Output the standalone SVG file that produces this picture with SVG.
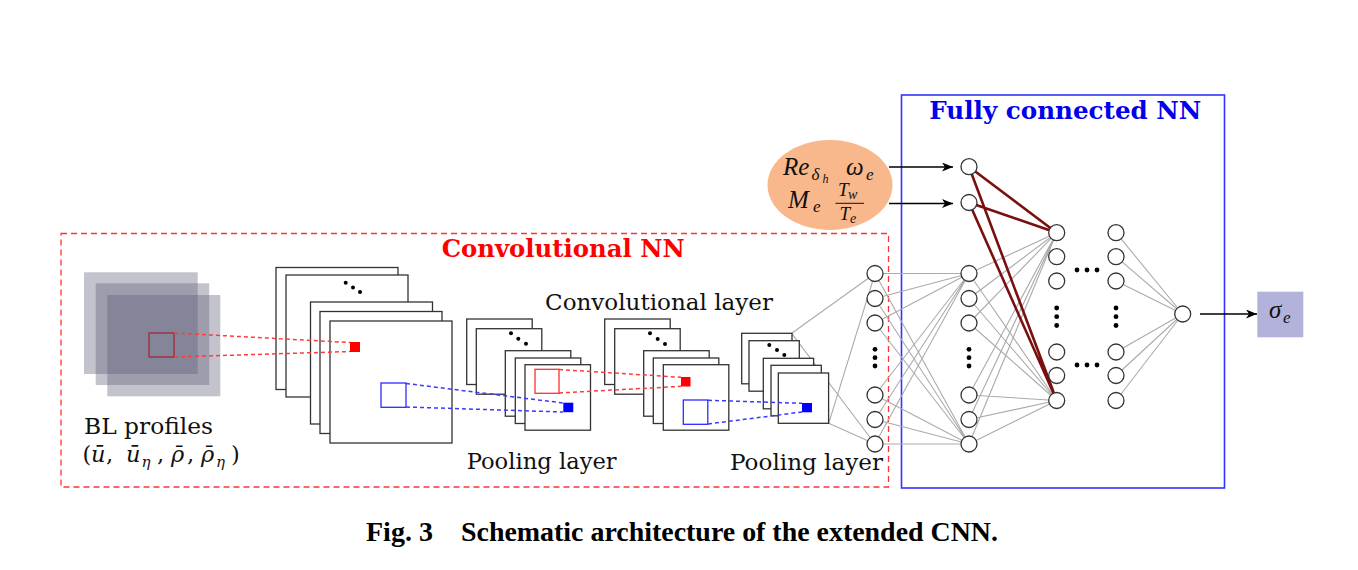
<svg xmlns="http://www.w3.org/2000/svg" width="1358" height="570" viewBox="0 0 1358 570">
<style>
.fr{fill:#fff;stroke:#333;stroke-width:1.3}
.gs{fill:#5c5c78;fill-opacity:0.37}
.nd{fill:#fff;stroke:#333;stroke-width:1.3}
.dt{fill:#000}
.gl{fill:none;stroke:#ababab;stroke-width:1.1}
.rl{fill:none;stroke:#7a0f0f;stroke-width:2.6}
.ar{fill:none;stroke:#000;stroke-width:1.6;marker-end:url(#ah)}
.rd{fill:none;stroke:#ff3b3b;stroke-width:1.5;stroke-dasharray:4 3}
.bd{fill:none;stroke:#3a3aff;stroke-width:1.5;stroke-dasharray:4 3}
.lbl{font-family:"DejaVu Serif","Liberation Serif",serif;font-size:22.5px;fill:#111}
.ttl{font-family:"DejaVu Serif","Liberation Serif",serif;font-size:24px;font-weight:bold}
.mi{font-family:"Liberation Serif","DejaVu Serif",serif;font-style:italic;fill:#111}
.mb{font-family:"DejaVu Serif",serif;font-style:italic;fill:#111}
.cap{font-family:"Liberation Serif","Times New Roman",serif;font-size:28px;font-weight:bold;fill:#000}
</style>
<defs>
<marker id="ah" markerUnits="userSpaceOnUse" markerWidth="12" markerHeight="9" refX="11" refY="4.5" orient="auto">
<path d="M0,0 L11,4.5 L0,9 L3,4.5 z" fill="#000"/>
</marker>
</defs>

<g id="cnn-frame">
<rect x="61" y="233.5" width="827.5" height="253.5" fill="none" stroke="#ff3333" stroke-width="1.3" stroke-dasharray="6 4"/>
<text class="ttl" x="441.7" y="257" fill="#ff0000" textLength="243" lengthAdjust="spacingAndGlyphs">Convolutional NN</text>
</g>

<g id="fc-frame">
<rect x="901.5" y="95" width="323" height="393" fill="none" stroke="#3333ff" stroke-width="1.6"/>
<text class="ttl" x="929.3" y="118.5" fill="#0000ee" textLength="272" lengthAdjust="spacingAndGlyphs">Fully connected NN</text>
</g>

<g id="connectors">
<path class="gl" d="M791.7 333.3L875 273.5M791.7 333.3L875 444M828.7 423.3L875 273.5M828.7 423.3L875 444"/>
<path class="gl" d="M875 273.5L969 273.5M875 298.5L969 273.5M875 323L969 273.5M875 395L969 273.5M875 419.5L969 273.5M875 444L969 273.5M875 273.5L969 444M875 298.5L969 444M875 323L969 444M875 395L969 444M875 419.5L969 444M875 444L969 444"/>
<path class="gl" d="M969 273.5L1056.7 232.7M969 298.5L1056.7 232.7M969 323L1056.7 232.7M969 395L1056.7 232.7M969 419.5L1056.7 232.7M969 444L1056.7 232.7M969 273.5L1056.7 400.5M969 298.5L1056.7 400.5M969 323L1056.7 400.5M969 395L1056.7 400.5M969 419.5L1056.7 400.5M969 444L1056.7 400.5"/>
<path class="gl" d="M1116 232.7L1182.7 314M1116 256.7L1182.7 314M1116 281L1182.7 314M1116 352L1182.7 314M1116 375.5L1182.7 314M1116 400.5L1182.7 314"/>
<path class="rl" d="M969 166.7L1056.7 232.7M969 166.7L1056.7 400.5M969 202.5L1056.7 232.7M969 202.5L1056.7 400.5"/>
<path class="ar" d="M889 167H953"/>
<path class="ar" d="M889 203.5H953"/>
<path class="ar" d="M1200 314H1257"/>
</g>

<g id="bl-profiles">
<rect class="gs" x="84" y="272.3" width="113.7" height="101.7"/>
<rect class="gs" x="95.7" y="283.3" width="113.5" height="101.7"/>
<rect class="gs" x="107.3" y="295" width="113" height="101.3"/>
<rect x="149" y="333" width="25" height="24" fill="none" stroke="#a3283a" stroke-width="1.3"/>
<text class="lbl" x="84" y="434" textLength="129" lengthAdjust="spacingAndGlyphs">BL profiles</text>
<text class="mb" font-size="22.5">
<tspan x="82.5" y="462" font-style="normal">(</tspan><tspan x="91" y="462">ū</tspan><tspan x="106" y="462" font-style="normal">,</tspan><tspan x="126" y="462">ū</tspan><tspan x="141.5" y="467" font-size="15">η</tspan><tspan x="157" y="462" font-style="normal">,</tspan><tspan x="171" y="462">ρ̄</tspan><tspan x="187" y="462" font-style="normal">,</tspan><tspan x="201" y="462">ρ̄</tspan><tspan x="216" y="467" font-size="15">η</tspan><tspan x="231" y="462" font-style="normal">)</tspan>
</text>
</g>

<g id="conv-layer-1">
<rect class="fr" x="276" y="267.5" width="122" height="122"/>
<rect class="fr" x="286" y="275" width="122" height="122"/>
<circle class="dt" cx="345.7" cy="282.7" r="2"/><circle class="dt" cx="353" cy="287.5" r="2"/><circle class="dt" cx="360" cy="292" r="2"/>
<rect class="fr" x="310.5" y="302" width="122" height="122"/>
<rect class="fr" x="320" y="311.5" width="122" height="122"/>
<rect class="fr" x="330" y="321" width="122" height="122"/>
<rect x="350" y="342" width="10" height="10" fill="#ff0000"/>
<rect x="381" y="383" width="25" height="24.3" fill="none" stroke="#2b2bff" stroke-width="1.3"/>
</g>

<g id="pool-layer-1">
<rect class="fr" x="466.7" y="319" width="65.5" height="65.5"/>
<rect class="fr" x="476.3" y="328.7" width="65.5" height="65.5"/>
<circle class="dt" cx="511" cy="333.3" r="2"/><circle class="dt" cx="518.3" cy="338.7" r="2"/><circle class="dt" cx="526" cy="343.7" r="2"/>
<rect class="fr" x="505.3" y="350.7" width="65.5" height="65.5"/>
<rect class="fr" x="515.3" y="358" width="65.5" height="65.5"/>
<rect class="fr" x="525" y="364.7" width="65.5" height="65.5"/>
<rect x="563.3" y="402.7" width="10" height="9.5" fill="#0000ff"/>
<rect x="535" y="369.3" width="24" height="24" fill="none" stroke="#ff3030" stroke-width="1.3"/>
<text class="lbl" x="466.7" y="469" textLength="150" lengthAdjust="spacingAndGlyphs">Pooling layer</text>
</g>

<g id="conv-layer-2">
<rect class="fr" x="604.7" y="319" width="65.5" height="65.5"/>
<rect class="fr" x="614.7" y="328.7" width="65.5" height="65.5"/>
<circle class="dt" cx="650" cy="333.3" r="2"/><circle class="dt" cx="657.7" cy="339" r="2"/><circle class="dt" cx="665" cy="344" r="2"/>
<rect class="fr" x="643.7" y="350.7" width="65.5" height="65.5"/>
<rect class="fr" x="653.3" y="358" width="65.5" height="65.5"/>
<rect class="fr" x="663.3" y="364.7" width="65.5" height="65.5"/>
<rect x="681" y="377" width="9.5" height="9.5" fill="#ff0000"/>
<rect x="683.3" y="400" width="24.5" height="24.3" fill="none" stroke="#2b2bff" stroke-width="1.3"/>
<text class="lbl" x="545" y="309.5" textLength="228" lengthAdjust="spacingAndGlyphs">Convolutional layer</text>
</g>

<g id="pool-layer-2">
<rect class="fr" x="741.7" y="333.3" width="50.3" height="50.5"/>
<rect class="fr" x="749" y="340.7" width="50.3" height="50.5"/>
<circle class="dt" cx="769.3" cy="345" r="2"/><circle class="dt" cx="777" cy="350" r="2"/><circle class="dt" cx="784.3" cy="355" r="2"/>
<rect class="fr" x="763.3" y="358.3" width="50.3" height="50.5"/>
<rect class="fr" x="771" y="365.3" width="50.3" height="50.5"/>
<rect class="fr" x="778.3" y="373" width="50.3" height="50.3"/>
<rect x="802" y="403" width="10" height="9.3" fill="#0000ff"/>
<text class="lbl" x="730" y="470" textLength="153" lengthAdjust="spacingAndGlyphs">Pooling layer</text>
</g>

<g id="projections">
<path class="rd" d="M174 333L350 342.5M174 357L350 351.5"/>
<path class="bd" d="M406 383.5L563 403M406 407L563 412"/>
<path class="rd" d="M559 369.5L681 377.3M559 393L681 386.3"/>
<path class="bd" d="M708 400.3L802 403.3M708 424L802 412"/>
</g>

<g id="fc-col-1">
<circle class="nd" cx="875" cy="273.5" r="8"/><circle class="nd" cx="875" cy="298.5" r="8"/><circle class="nd" cx="875" cy="323" r="8"/>
<circle class="dt" cx="875" cy="349.3" r="2.4"/><circle class="dt" cx="875" cy="357.7" r="2.4"/><circle class="dt" cx="875" cy="366" r="2.4"/>
<circle class="nd" cx="875" cy="395" r="8"/><circle class="nd" cx="875" cy="419.5" r="8"/><circle class="nd" cx="875" cy="444" r="8"/>
</g>

<g id="fc-col-2">
<circle class="nd" cx="969" cy="273.5" r="8"/><circle class="nd" cx="969" cy="298.5" r="8"/><circle class="nd" cx="969" cy="323" r="8"/>
<circle class="dt" cx="969" cy="349.3" r="2.4"/><circle class="dt" cx="969" cy="357.7" r="2.4"/><circle class="dt" cx="969" cy="366" r="2.4"/>
<circle class="nd" cx="969" cy="395" r="8"/><circle class="nd" cx="969" cy="419.5" r="8"/><circle class="nd" cx="969" cy="444" r="8"/>
</g>

<g id="fc-col-3">
<circle class="nd" cx="1056.7" cy="232.7" r="8"/><circle class="nd" cx="1056.7" cy="256.7" r="8"/><circle class="nd" cx="1056.7" cy="281" r="8"/>
<circle class="dt" cx="1056.7" cy="308" r="2.4"/><circle class="dt" cx="1056.7" cy="316.7" r="2.4"/><circle class="dt" cx="1056.7" cy="325.5" r="2.4"/>
<circle class="nd" cx="1056.7" cy="352" r="8"/><circle class="nd" cx="1056.7" cy="375.5" r="8"/><circle class="nd" cx="1056.7" cy="400.5" r="8"/>
</g>

<g id="fc-ellipsis">
<circle class="dt" cx="1077" cy="270" r="2.4"/><circle class="dt" cx="1087" cy="270" r="2.4"/><circle class="dt" cx="1097" cy="270" r="2.4"/>
<circle class="dt" cx="1077" cy="365" r="2.4"/><circle class="dt" cx="1087" cy="365" r="2.4"/><circle class="dt" cx="1097" cy="365" r="2.4"/>
</g>

<g id="fc-col-4">
<circle class="nd" cx="1116" cy="232.7" r="8"/><circle class="nd" cx="1116" cy="256.7" r="8"/><circle class="nd" cx="1116" cy="281" r="8"/>
<circle class="dt" cx="1116" cy="308" r="2.4"/><circle class="dt" cx="1116" cy="316.7" r="2.4"/><circle class="dt" cx="1116" cy="325.5" r="2.4"/>
<circle class="nd" cx="1116" cy="352" r="8"/><circle class="nd" cx="1116" cy="375.5" r="8"/><circle class="nd" cx="1116" cy="400.5" r="8"/>
</g>

<g id="fc-output">
<circle class="nd" cx="1182.7" cy="314" r="8"/>
</g>

<g id="extra-inputs">
<circle class="nd" cx="969" cy="166.7" r="8"/>
<circle class="nd" cx="969" cy="202.5" r="8"/>
</g>

<g id="input-params">
<ellipse cx="830" cy="185" rx="62.5" ry="45" fill="#f8b88c"/>
<text class="mi">
<tspan x="783" y="175" font-size="25">Re</tspan><tspan x="811.5" y="179.5" font-size="17">δ</tspan><tspan x="822.5" y="182.5" font-size="12">h</tspan><tspan x="846" y="175" font-size="25">ω</tspan><tspan x="866" y="180" font-size="17">e</tspan>
<tspan x="788" y="208.3" font-size="25">M</tspan><tspan x="813" y="212" font-size="17">e</tspan>
<tspan x="838" y="196" font-size="19">T</tspan><tspan x="848" y="198.5" font-size="14">w</tspan>
<tspan x="839.5" y="220" font-size="19">T</tspan><tspan x="850" y="222.5" font-size="14">e</tspan>
</text>
<path d="M835.5 203.3H864" stroke="#111" stroke-width="1"/>
</g>

<g id="output-sigma">
<rect x="1257.3" y="291.7" width="46" height="45.6" fill="#b2b2da"/>
<text class="mi"><tspan x="1269" y="318.3" font-size="25">σ</tspan><tspan x="1283" y="322.5" font-size="17">e</tspan></text>
</g>

<g id="caption">
<text class="cap" x="366" y="541">Fig. 3</text>
<text class="cap" x="461" y="541" textLength="537" lengthAdjust="spacingAndGlyphs">Schematic architecture of the extended CNN.</text>
</g>
</svg>
